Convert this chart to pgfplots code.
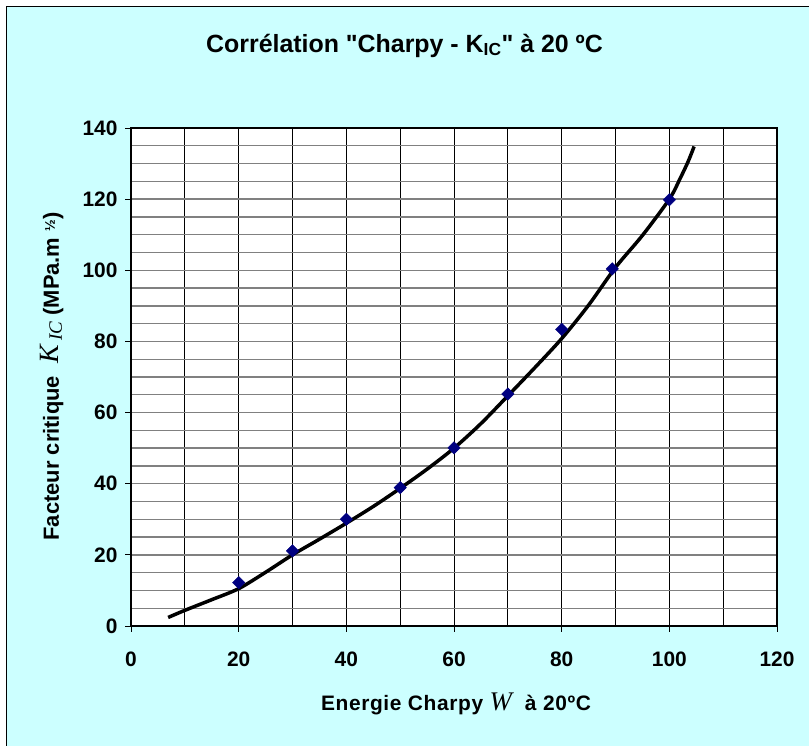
\documentclass[border=0pt]{standalone}
\usepackage{pgfplots}
\pgfplotsset{compat=1.18}
\usepackage{fontspec}
\setmainfont{Liberation Sans}
\newfontfamily\tms{Liberation Serif}
\newfontfamily\nolig{Liberation Sans}
\definecolor{chartbg}{RGB}{204,255,255}
\definecolor{ptnavy}{RGB}{0,0,128}

\begin{document}
\begin{tikzpicture}[x=1bp,y=1bp]
\useasboundingbox (0,0) rectangle (809,746);
\fill[white] (0,0) rectangle (809,746);
\fill[chartbg] (7,0) rectangle (809,739);
\draw[black, line width=1.6bp] (6.5,0) -- (6.5,739.5) -- (809,739.5);

\begin{axis}[
  at={(131bp,120bp)}, anchor=south west,
  scale only axis, width=646bp, height=498bp,
  xmin=0, xmax=120, ymin=0, ymax=140,
  xtick={0,20,...,120}, ytick={0,20,...,140},
  minor x tick num=1, minor y tick num=3,
  xmajorgrids, xminorgrids, ymajorgrids, yminorgrids,
  x grid style={black, line width=0.9bp},
  y grid style={black!50, line width=1.4bp},
  minor tick length=0pt,
  major tick length=6bp,
  tick align=outside, tick pos=left,
  tick style={black, line width=0.9bp},
  axis line style={black, line width=1.2bp},
  axis background/.style={fill=white},
  /pgf/number format/assume math mode=true,
  ticklabel style={font=\fontsize{21}{24}\selectfont\bfseries},
  xticklabel style={yshift=-16bp},
  yticklabel style={xshift=-4bp},
]
% fitted curve
\addplot[black, line width=3.5bp, smooth] coordinates {
  (6.9,2.4) (10,4.4) (15,7.4) (20,10.5) (25,15.1) (30,20.0) (35,24.4)
  (40,28.9) (45,33.6) (50,38.7) (55,44.1) (60,50.0) (65,56.9) (70,64.7)
  (75,72.6) (80,80.8) (85,90.2) (90,100.8) (95,109.8) (100,120.0)
  (102,125.8) (103.5,130.6) (104.6,134.8)};
% measured points
\addplot[only marks, mark=square*, mark size=4.4bp,
  mark options={rotate=45, fill=ptnavy, draw=ptnavy}] coordinates {
  (20,12.2) (30,21.1) (40,30.0) (50,38.9) (60,50.1) (70,65.2)
  (80,83.4) (89.4,100.4) (100,119.8)};
\end{axis}

\node[font=\nolig\fontsize{25}{30}\selectfont\bfseries] at (404.5,700.5)
  {Corrélation "Charpy - K\textsubscript{IC}" à 20 ºC};
\node[font=\fontsize{21}{24}\selectfont\bfseries\addfontfeature{LetterSpace=3}] at (456,42)
  {Energie Charpy {\tms\itshape\mdseries\fontsize{27}{27}\selectfont W}\ \ à 20ºC};
\node[font=\fontsize{22}{26}\selectfont\bfseries, rotate=90] at (52,369.5)
  {Facteur critique\ \ {\tms\itshape\mdseries\fontsize{28}{28}\selectfont K\,\raisebox{-3bp}{\fontsize{19}{19}\selectfont IC}} (MPa.m \raisebox{4bp}{\fontsize{14}{14}\selectfont ½})};
\end{tikzpicture}
\end{document}
